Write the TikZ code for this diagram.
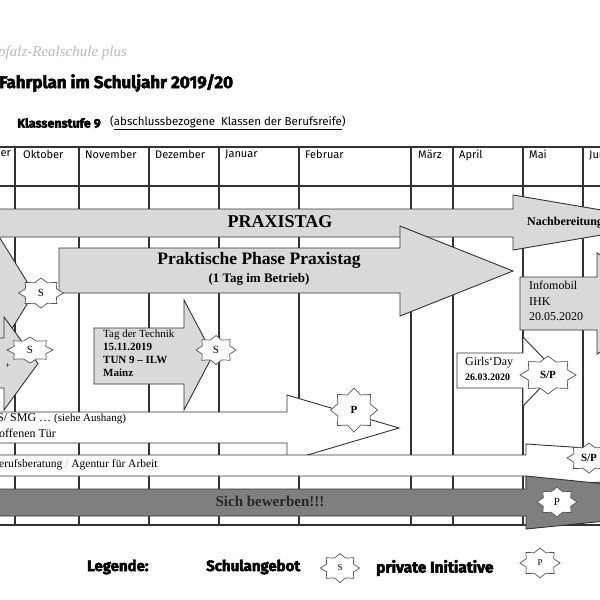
\documentclass[tikz,border=0pt]{standalone}
\usepackage{fontspec}
\setmainfont{Liberation Serif}
\newfontfamily\kopf{Fira Sans}
\newfontfamily\deko{Fira Sans}[BoldFeatures={FakeBold=3}]
\usetikzlibrary{calc}
\definecolor{hellgrau}{HTML}{D9D9D9}
\definecolor{dunkelgrau}{HTML}{7F7F7F}
\definecolor{linie}{HTML}{333333}
\definecolor{sternlinie}{HTML}{555555}

\tikzset{
  every node/.style={inner sep=0pt},
  gitter/.style={draw=linie, line width=1.1pt},
  pfeilhell/.style={draw=linie, fill=hellgrau, line width=0.9pt},
  pfeilweiss/.style={draw=linie, fill=white, line width=0.9pt},
  pfeildunkel/.style={draw=linie, fill=dunkelgrau, line width=0.9pt},
  sternrand/.style={draw=sternlinie, fill=white, line width=0.7pt},
  sterntext/.style={font=\fontsize{11}{13}\selectfont},
  monat/.style={anchor=north west, font=\kopf\fontsize{11}{13}\selectfont},
  legende/.style={anchor=west, font=\deko\bfseries\fontsize{15}{17}\selectfont}
}

% Blockpfeil: Stil, links, Kopfansatz, Spitze, Koerper oben/unten, Kopf oben/unten
\newcommand{\blockpfeil}[8]{%
  \draw[#1] (#2,#5) -- (#3,#5) -- (#3,#7) -- (#4,{(#7+#8)/2})
    -- (#3,#8) -- (#3,#6) -- (#2,#6) -- cycle;}

% Stern: Name, x, y, Radius x, Radius y, Text
\newcommand{\stern}[6]{%
  \coordinate (#1-m) at (#2,#3);
  \draw[sternrand] ($(#1-m)+(0:#4 and #5)$)
    \foreach \w/\f in {22.5/.74,45/1,67.5/.74,90/1,112.5/.74,135/1,157.5/.74,180/1,
      202.5/.74,225/1,247.5/.74,270/1,292.5/.74,315/1,337.5/.74}
      { -- ($(#1-m)+(\w:\f*#4 and \f*#5)$) } -- cycle;
  \node[sterntext] (#1) at (#1-m) {#6};}

\begin{document}
\begin{tikzpicture}[x=1pt,y=-1pt]
  \useasboundingbox (0,0) rectangle (600,600);
  \clip (0,0) rectangle (600,600);

  % Kopf
  \node[anchor=west, font=\itshape\fontsize{15}{17}\selectfont, text=gray!55] (schule) at (-2,53) {pfalz-Realschule plus};
  \node[anchor=west, font=\deko\bfseries\fontsize{17}{20}\selectfont] (titel) at (-1,83) {Fahrplan im Schuljahr 2019/20};
  \node[anchor=west, font=\deko\bfseries\fontsize{12.5}{15}\selectfont] (stufe) at (17,123) {Klassenstufe 9};
  \node[anchor=west, font=\kopf\fontsize{11.5}{13}\selectfont] (berufsreife) at (110,123)
    {(\underline{abschlussbezogene\ \ Klassen der Berufsreife})};

  % Tabelle
  \foreach \y in {147,186,525}
    \draw[gitter] (-5,\y) -- (605,\y);
  \foreach \x in {15,79,149,219,299,411,453,523,583}
    \draw[gitter] (\x,147) -- (\x,525);
  \node[monat, anchor=north east] (sep) at (11,150) {er};
  \foreach \x/\m/\n in {23/Oktober/okt, 85/November/nov, 155/Dezember/dez,
    225/Januar/jan, 305/Februar/feb, 418/März/mar, 459/April/apr,
    529/Mai/mai, 589/Juni/jun}
    \node[monat] (\n) at (\x,150) {\m};

  % Pfeile
  \blockpfeil{pfeilhell}{-20}{513}{675}{209}{237}{195}{250}
  \draw[pfeilhell] (-10,222) -- (34,293) -- (-10,364) -- cycle;
  \blockpfeil{pfeilhell}{-20}{4}{38}{338}{388}{317}{410}
  \blockpfeil{pfeilhell}{59}{400}{513}{248}{293}{226}{316}
  \blockpfeil{pfeilhell}{94}{184}{213}{328}{384}{300}{410}
  \blockpfeil{pfeilhell}{520}{597}{680}{277}{330}{253}{354}
  \blockpfeil{pfeilweiss}{457}{523}{556}{353}{388}{337}{406}
  \blockpfeil{pfeilweiss}{-20}{287}{399}{412}{443}{395}{461}
  \blockpfeil{pfeilweiss}{-20}{526}{850}{455}{476}{444}{487}
  \blockpfeil{pfeildunkel}{-20}{526}{790}{489}{516}{476}{529}

  % Texte
  \node[font=\bfseries\fontsize{18}{21}\selectfont] (praxistag) at (280,222) {PRAXISTAG};
  \node[anchor=west, font=\bfseries\fontsize{12}{14}\selectfont] (nachbereitung) at (527,223) {Nachbereitung};
  \node[font=\bfseries\fontsize{17.5}{20}\selectfont] (praktisch) at (259,260) {Praktische Phase Praxistag};
  \node[font=\bfseries\fontsize{13}{15}\selectfont] (betrieb) at (259,279) {(1 Tag im Betrieb)};
  \node[anchor=north west, align=left, font=\fontsize{11}{13}\selectfont] (technik) at (103,330)
    {Tag der Technik\\ \textbf{15.11.2019}\\ \textbf{TUN 9 -- ILW}\\ \textbf{Mainz}};
  \node[anchor=north west, align=left, font=\fontsize{12}{15.5}\selectfont] (infomobil) at (529,281)
    {Infomobil\\ IHK\\ 20.05.2020};
  \node[anchor=west, font=\fontsize{12}{14}\selectfont] (girls) at (465,363) {Girls`Day};
  \node[anchor=west, font=\bfseries\fontsize{10}{12}\selectfont] (girlsdatum) at (465,377) {26.03.2020};
  \node[anchor=west, font=\fontsize{12}{14}\selectfont] (smg) at (-3,419)
    {S/ SMG … {\fontsize{11}{13}\selectfont (siehe Aushang)}};
  \node[anchor=west, font=\fontsize{12}{14}\selectfont] (tuer) at (-1,433) {offenen Tür};
  \node[anchor=west, font=\fontsize{11.5}{14}\selectfont] (beratung) at (-1,465)
    {erufsberatung {\color{gray!60}/} Agentur für Arbeit};
  \node[font=\bfseries\fontsize{15}{17}\selectfont, text=black!85] (bewerben) at (270,501) {Sich bewerben!!!};
  \node[font=\fontsize{9}{10}\selectfont] (plus) at (8,366) {+};

  % Sterne
  \stern{s1}{41}{293}{22.5}{15}{S}
  \stern{s2}{30}{350}{23}{13}{S}
  \stern{s3}{216}{350}{20}{14.5}{S}
  \stern{p1}{354}{410}{23.5}{22}{\bfseries P}
  \stern{sp1}{548}{375}{28}{19}{\bfseries S/P}
  \stern{sp2}{589}{458}{22}{15}{\bfseries S/P}
  \stern{p2}{557}{502}{20}{15}{P}

  % Legende
  \node[legende] (legende) at (87,567) {Legende:};
  \node[legende] (schulangebot) at (206,567) {Schulangebot};
  \stern{legs}{340}{568}{19.5}{14.5}{\small S}
  \node[legende, font=\deko\bfseries\fontsize{15.5}{17}\selectfont] (privat) at (376,568) {private Initiative};
  \stern{legp}{540}{563}{20}{15}{\small P}
\end{tikzpicture}
\end{document}
